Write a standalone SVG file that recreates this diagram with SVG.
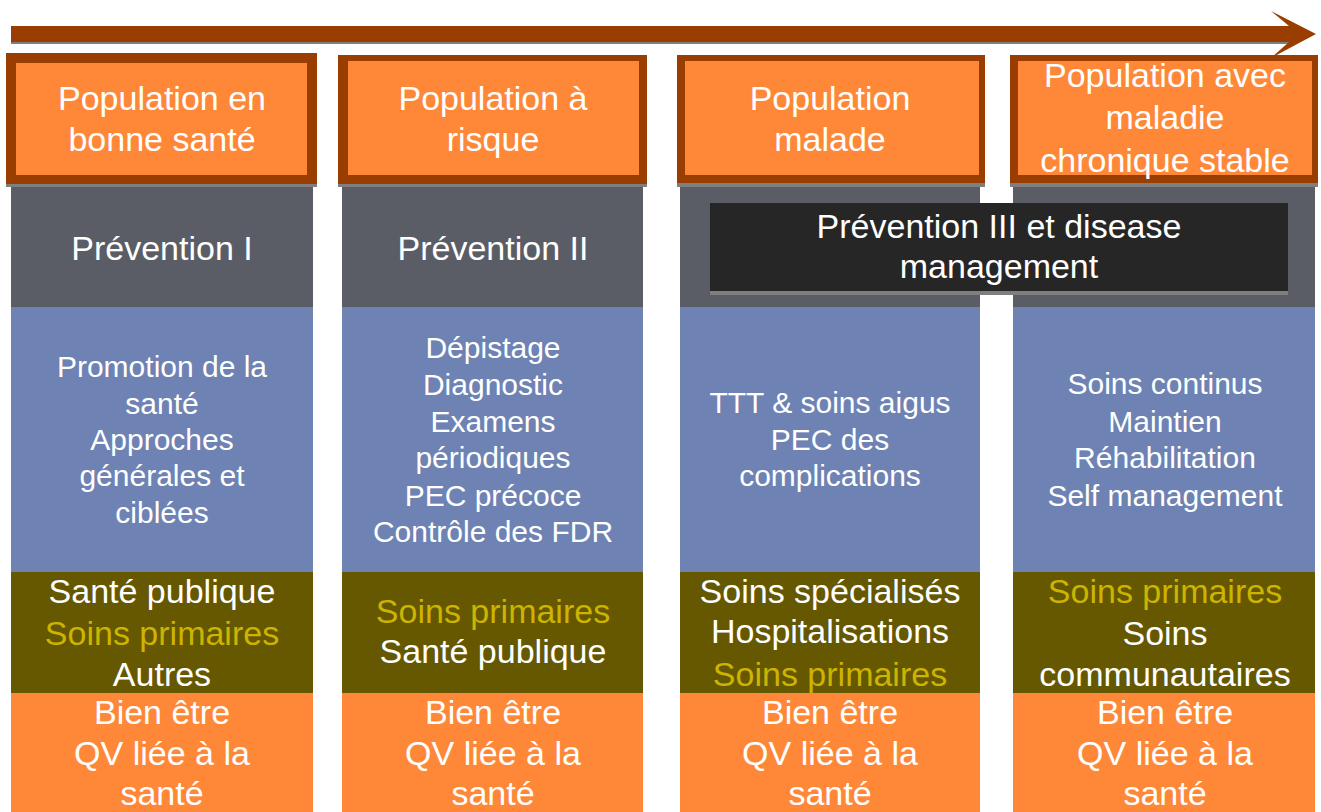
<svg xmlns="http://www.w3.org/2000/svg" width="1321" height="812" viewBox="0 0 1321 812">
<style>
text{font-family:"Liberation Sans",Arial,sans-serif;fill:#fff;text-anchor:middle}
.big{font-size:34px}
.mid{font-size:30px}
.y{fill:#CCB400}
.hb{fill:#993D00}
.hi{fill:#FF8838}
.sh{fill:#7F7F7F}
.gr{fill:#5A5D66}
.bl{fill:#6E83B3}
.ol{fill:#665800}
.or{fill:#FF8838}
</style>
<rect width="1321" height="812" fill="#fff"/>
<g id="connectors">
<rect class="sh" x="11" y="41" width="1280" height="3"/>
<path d="M11,26 H1289 L1271,11 L1316,34 L1271,58 L1289,42 H11 Z" fill="#993D00"/>
</g>
<g id="col1">
<rect class="gr" x="11" y="187" width="302" height="120"/>
<rect class="bl" x="11" y="307" width="302" height="265"/>
<rect class="ol" x="11" y="572" width="302" height="121"/>
<rect class="or" x="11" y="693" width="302" height="119"/>
<rect class="sh" x="6" y="183" width="311" height="4"/>
<rect class="hb" x="6" y="53" width="311" height="131"/>
<rect class="hi" x="16" y="63" width="291" height="112"/>
<text class="big" x="162" y="110">Population en</text>
<text class="big" x="162" y="151">bonne santé</text>
<text class="big" x="162" y="260">Prévention I</text>
<text class="mid" x="162" y="377">Promotion de la</text>
<text class="mid" x="162" y="414">santé</text>
<text class="mid" x="162" y="450">Approches</text>
<text class="mid" x="162" y="486">générales et</text>
<text class="mid" x="162" y="523">ciblées</text>
<text class="big" x="162" y="603">Santé publique</text>
<text class="big y" x="162" y="645">Soins primaires</text>
<text class="big" x="162" y="686">Autres</text>
<text class="big" x="162" y="724">Bien être</text>
<text class="big" x="162" y="765">QV liée à la</text>
<text class="big" x="162" y="805">santé</text>
</g>
<g id="col2">
<rect class="gr" x="342" y="187" width="301" height="120"/>
<rect class="bl" x="342" y="307" width="301" height="265"/>
<rect class="ol" x="342" y="572" width="301" height="121"/>
<rect class="or" x="342" y="693" width="301" height="119"/>
<rect class="sh" x="338" y="183" width="309" height="4"/>
<rect class="hb" x="338" y="55" width="309" height="129"/>
<rect class="hi" x="348" y="61" width="291" height="114"/>
<text class="big" x="493" y="110">Population à</text>
<text class="big" x="493" y="151">risque</text>
<text class="big" x="493" y="260">Prévention II</text>
<text class="mid" x="493" y="358">Dépistage</text>
<text class="mid" x="493" y="395">Diagnostic</text>
<text class="mid" x="493" y="432">Examens</text>
<text class="mid" x="493" y="468">périodiques</text>
<text class="mid" x="493" y="506">PEC précoce</text>
<text class="mid" x="493" y="542">Contrôle des FDR</text>
<text class="big y" x="493" y="623">Soins primaires</text>
<text class="big" x="493" y="663">Santé publique</text>
<text class="big" x="493" y="724">Bien être</text>
<text class="big" x="493" y="765">QV liée à la</text>
<text class="big" x="493" y="805">santé</text>
</g>
<g id="col3">
<rect class="gr" x="680" y="187" width="300" height="120"/>
<rect class="bl" x="680" y="307" width="300" height="265"/>
<rect class="ol" x="680" y="572" width="300" height="121"/>
<rect class="or" x="680" y="693" width="300" height="119"/>
<rect class="sh" x="677" y="183" width="308" height="4"/>
<rect class="hb" x="677" y="55" width="308" height="128"/>
<rect class="hi" x="685" y="61" width="294" height="114"/>
<text class="big" x="830" y="110">Population</text>
<text class="big" x="830" y="151">malade</text>
<text class="mid" x="830" y="413">TTT &amp; soins aigus</text>
<text class="mid" x="830" y="450">PEC des</text>
<text class="mid" x="830" y="486">complications</text>
<text class="big" x="830" y="603">Soins spécialisés</text>
<text class="big" x="830" y="643">Hospitalisations</text>
<text class="big y" x="830" y="686">Soins primaires</text>
<text class="big" x="830" y="724">Bien être</text>
<text class="big" x="830" y="765">QV liée à la</text>
<text class="big" x="830" y="805">santé</text>
</g>
<g id="col4">
<rect class="gr" x="1013" y="187" width="302" height="120"/>
<rect class="bl" x="1013" y="307" width="302" height="265"/>
<rect class="ol" x="1013" y="572" width="302" height="121"/>
<rect class="or" x="1013" y="693" width="302" height="119"/>
<rect class="sh" x="1010" y="183" width="308" height="4"/>
<rect class="hb" x="1010" y="55" width="308" height="128"/>
<rect class="hi" x="1018" y="61" width="294" height="114"/>
<text class="big" x="1165" y="87">Population avec</text>
<text class="big" x="1165" y="129">maladie</text>
<text class="big" x="1165" y="172">chronique stable</text>
<text class="mid" x="1165" y="394">Soins continus</text>
<text class="mid" x="1165" y="432">Maintien</text>
<text class="mid" x="1165" y="468">Réhabilitation</text>
<text class="mid" x="1165" y="506">Self management</text>
<text class="big y" x="1165" y="603">Soins primaires</text>
<text class="big" x="1165" y="645">Soins</text>
<text class="big" x="1165" y="686">communautaires</text>
<text class="big" x="1165" y="724">Bien être</text>
<text class="big" x="1165" y="765">QV liée à la</text>
<text class="big" x="1165" y="805">santé</text>
</g>
<g id="prevention3">
<rect class="sh" x="710" y="290" width="578" height="5"/>
<rect x="710" y="203" width="578" height="88" fill="#262626"/>
<text class="big" x="999" y="238">Prévention III et disease</text>
<text class="big" x="999" y="278">management</text>
</g>
</svg>
